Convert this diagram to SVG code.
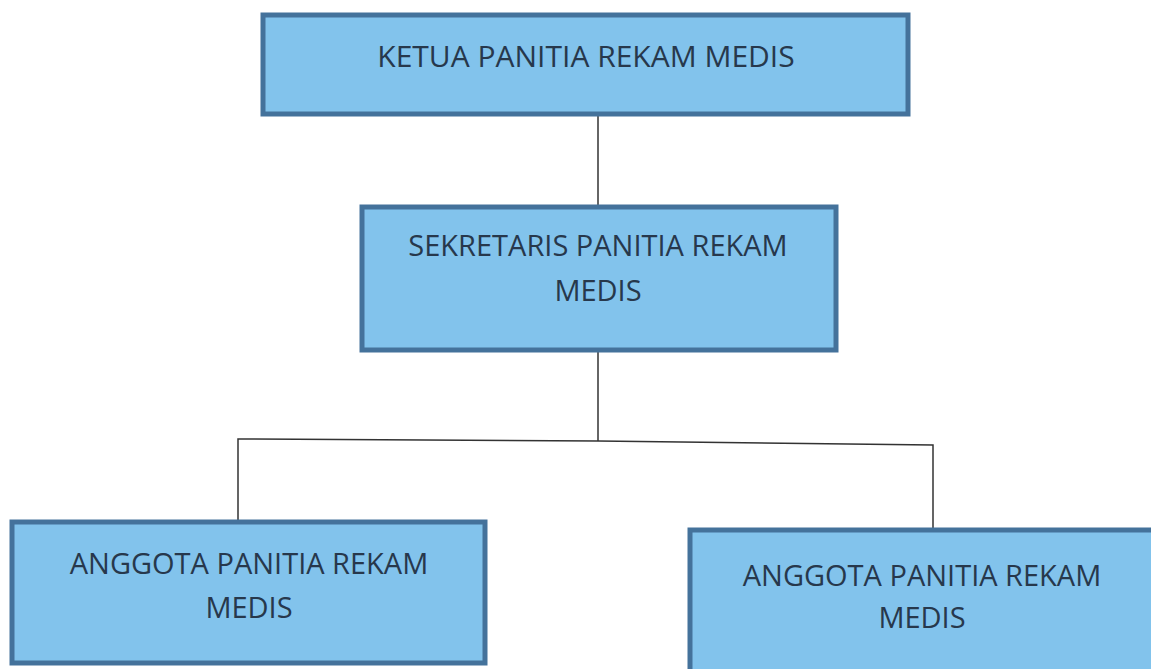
<svg xmlns="http://www.w3.org/2000/svg" width="1151" height="669" viewBox="0 0 1151 669">
<style>
.box{fill:#82c3ec;stroke:#44729b;stroke-width:5}
.t{font-family:"Open Sans","Liberation Sans",sans-serif;font-size:29px;fill:#27384c;text-anchor:middle}
.c{stroke:#333;stroke-width:1.5;fill:none}
</style>
<rect width="1151" height="669" fill="#ffffff"/>
<g id="connectors">
<line class="c" x1="598" y1="115" x2="598" y2="206"/>
<line class="c" x1="598" y1="352" x2="598" y2="441"/>
<polyline class="c" points="238,521 238,439 598,441 933,445 933,529"/>
</g>
<g id="ketua">
<rect class="box" x="263" y="15" width="645" height="99"/>
<text class="t" x="586" y="67" style="font-size:30px">KETUA PANITIA REKAM MEDIS</text>
</g>
<g id="sekretaris">
<rect class="box" x="362" y="207" width="474" height="143"/>
<text class="t" x="598" y="256">SEKRETARIS PANITIA REKAM</text>
<text class="t" x="598" y="301">MEDIS</text>
</g>
<g id="anggota1">
<rect class="box" x="12" y="522" width="473" height="141"/>
<text class="t" x="249" y="574">ANGGOTA PANITIA REKAM</text>
<text class="t" x="249" y="618">MEDIS</text>
</g>
<g id="anggota2">
<rect class="box" x="690" y="530" width="470" height="145"/>
<text class="t" x="922" y="586">ANGGOTA PANITIA REKAM</text>
<text class="t" x="922" y="628">MEDIS</text>
</g>
</svg>
